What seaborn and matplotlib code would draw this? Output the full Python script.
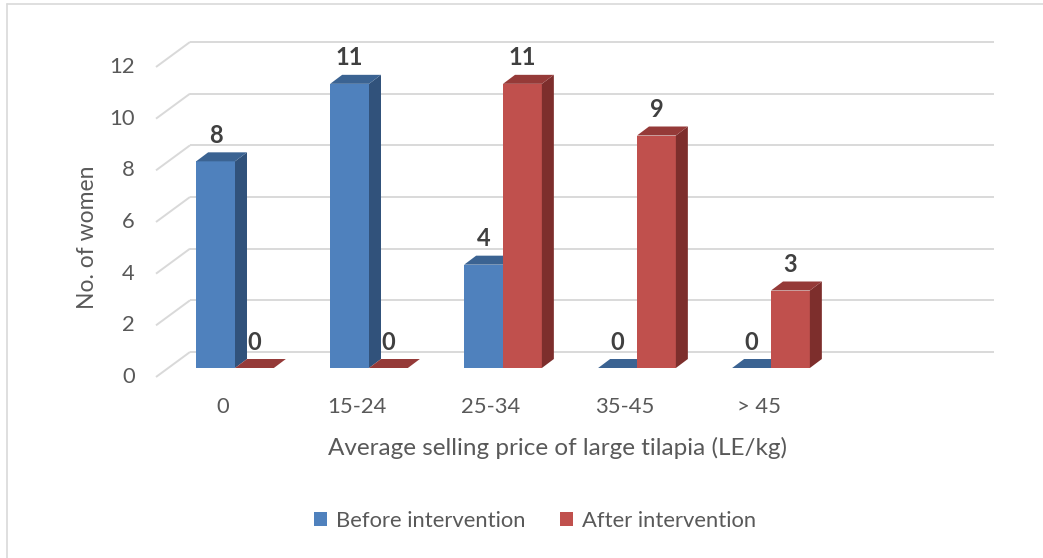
"""
3D-style grouped column chart: average selling price of large tilapia,
number of women before / after the intervention.
"""

import numpy as np
import pandas as pd
import matplotlib
matplotlib.use("Agg")  # no display
import matplotlib.pyplot as plt
from matplotlib.colors import to_hex
from matplotlib.lines import Line2D
from matplotlib.patches import Polygon, Patch
import seaborn as sns

# ─────────────────────────────────────────────
# DATA
# ─────────────────────────────────────────────
price_bins   = ["0", "15-24", "25-34", "35-45", "> 45"]
before_vals  = [8, 11, 4, 0, 0]
after_vals   = [0, 0, 11, 9, 3]
series_names = ["Before intervention", "After intervention"]
y_ticks      = [0, 2, 4, 6, 8, 10, 12]

# ─────────────────────────────────────────────
# STYLE
# ─────────────────────────────────────────────
FRONT = {"Before intervention": "#4F81BD", "After intervention": "#C0504D"}
TOP   = {"Before intervention": "#3B6392", "After intervention": "#953A38"}
SIDE  = {"Before intervention": "#31527B", "After intervention": "#7D2E2C"}
GRID  = "#D9D9D9"
TXT   = "#595959"

W, H = 1043, 558          # output size in px (dpi 100)
FONT_SIZE  = 15.8         # ticks, legend
TITLE_SIZE = 17.5         # axis titles
LABEL_SIZE = 17           # data labels

sns.set_theme(style="white")
plt.rcParams["font.family"] = ["Lato", "DejaVu Sans"]

df = pd.DataFrame({
    "price":  price_bins * 2,
    "women":  before_vals + after_vals,
    "period": [series_names[0]] * len(price_bins) + [series_names[1]] * len(price_bins),
})

fig = plt.figure(figsize=(W / 100, H / 100), dpi=100)
# axes = plane of the bars' front faces
ax = fig.add_axes([168 / W, (H - 368) / H, 804 / W, 310 / H])

sns.barplot(
    data=df, x="price", y="women", hue="period",
    order=price_bins, hue_order=series_names, palette=FRONT,
    saturation=1, width=0.58, errorbar=None, legend=False, ax=ax,
)
ax.set_xlim(-0.5, 5.5)
ax.set_ylim(0, 12)
ax.set_xticks([])
ax.set_yticks([])
for s in ax.spines.values():
    s.set_visible(False)
ax.patch.set_alpha(0)


def px2data(dx, dy):
    """Pixel offset -> data offset (linear axes)."""
    p0 = ax.transData.transform((0, 0))
    return ax.transData.inverted().transform(p0 + np.array([dx, dy]))


fx, fy = px2data(-12, -9)   # front edge of the floor
bx, by = px2data(22, 16)    # back wall
dx, dy = px2data(12, 9)     # bar depth
x0, x1 = ax.get_xlim()

# gridlines on back wall + side wall
for v in y_ticks:
    ax.plot([x0 + bx, x1 + bx], [v + by, v + by], color=GRID, lw=1.4,
            zorder=0.5, clip_on=False, solid_capstyle="butt")
    ax.plot([x0 + fx, x0 + bx], [v + fy, v + by], color=GRID, lw=1.4,
            zorder=0.5, clip_on=False, solid_capstyle="butt")
    ax.text(x0 + px2data(-33, 0)[0], v + fy, str(v), ha="right", va="center",
            fontsize=FONT_SIZE, color=TXT)

# 3D faces + data labels
name_of = {to_hex(c).lower(): n for n, c in FRONT.items()}
lab_dy = px2data(0, 26)[1]
for bar in list(ax.patches):
    x, w, h = bar.get_x(), bar.get_width(), bar.get_height()
    name = name_of[to_hex(bar.get_facecolor()).lower()]
    z = 2 + x
    bar.set_zorder(z)
    bar.set_edgecolor("none")
    top = Polygon([(x, h), (x + w, h), (x + w + dx, h + dy), (x + dx, h + dy)],
                  closed=True, facecolor=TOP[name], edgecolor="none",
                  zorder=z, clip_on=False)
    side = Polygon([(x + w, 0), (x + w, h), (x + w + dx, h + dy), (x + w + dx, dy)],
                   closed=True, facecolor=SIDE[name], edgecolor="none",
                   zorder=z, clip_on=False)
    ax.add_patch(side)
    ax.add_patch(top)
    ax.text(x + w / 2, h + lab_dy, f"{h:g}", ha="center", va="center",
            fontsize=LABEL_SIZE, fontweight="bold", color="#404040",
            zorder=20, clip_on=False)

# category labels on the front edge
cat_dy = px2data(0, -39)[1]
for i, lab in enumerate(price_bins):
    ax.text(i + fx, cat_dy, lab, ha="center", va="center",
            fontsize=FONT_SIZE, color=TXT)

ax.set_xlabel("Average selling price of large tilapia (LE/kg)",
              fontsize=TITLE_SIZE, color=TXT)
ax.xaxis.set_label_coords((558 - 168) / 804, (368 - 448) / 310)
ax.xaxis.label.set_va("center")
ax.set_ylabel("No. of women", fontsize=TITLE_SIZE - 1, color=TXT)
ax.yaxis.set_label_coords((88 - 168) / 804, (368 - 237) / 310)
ax.yaxis.label.set_va("center")

handles = [Patch(facecolor=FRONT[n], edgecolor="none", label=n) for n in series_names]
fig.legend(handles=handles, loc="center", bbox_to_anchor=(535 / W, 1 - 521 / H),
           ncol=2, frameon=False, fontsize=FONT_SIZE, labelcolor=TXT,
           handlelength=0.6, handleheight=0.6, handletextpad=0.4,
           columnspacing=1.6)

# chart-area border (only top and left are inside the picture)
fig.add_artist(Line2D([7 / W, 1], [1 - 4 / H, 1 - 4 / H], transform=fig.transFigure,
                      color=GRID, lw=1.2))
fig.add_artist(Line2D([7 / W, 7 / W], [0, 1 - 4 / H], transform=fig.transFigure,
                      color=GRID, lw=1.2))

fig.savefig("out.png", dpi=100)
plt.close(fig)
